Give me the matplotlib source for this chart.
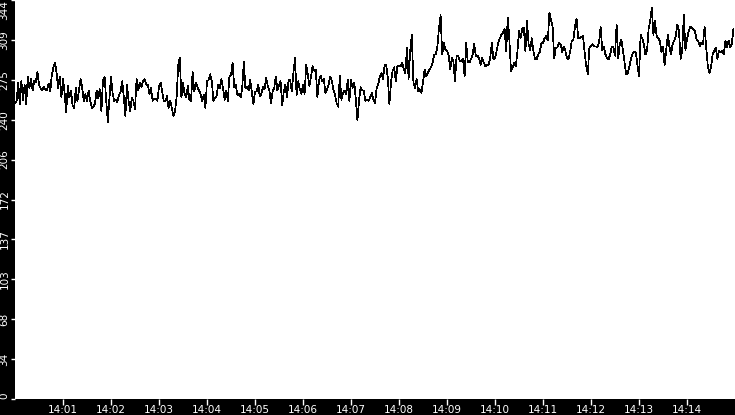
import numpy as np
import pandas as pd
import matplotlib
matplotlib.use("Agg")
import matplotlib.pyplot as plt
import matplotlib.dates as mdates

# readings every 2 s starting 14:00:00
vals_1 = [255, 257, 273, 254, 274, 258, 271, 254, 278, 268, 276, 266, 274, 273, 282,
          271, 268, 266, 269, 267, 266, 272, 265, 279, 286, 290, 281, 268, 278, 260,
          276, 264, 247, 270, 260, 266, 253, 251, 268, 257, 266, 276, 268, 257, 263,
          257, 266, 257, 251, 252, 255, 266, 259, 267, 248, 275, 278, 257, 239, 259,
          278, 264, 257, 258, 256, 262, 265, 274, 260, 244, 271, 257, 248, 260, 257]
vals_2 = [250, 276, 266, 273, 269, 274, 276, 271, 271, 263, 268, 257, 259, 259, 257,
          269, 273, 265, 257, 257, 261, 251, 257, 251, 244, 248, 260, 288, 294, 260,
          273, 263, 260, 270, 258, 257, 282, 265, 273, 269, 266, 263, 257, 262, 251,
          274, 275, 280, 274, 257, 260, 261, 271, 268, 276, 268, 258, 266, 257, 278,
          279, 290, 269, 271, 262, 263, 260, 268, 291, 268, 269, 266, 275, 265, 254]
vals_3 = [265, 265, 271, 261, 263, 269, 267, 277, 270, 266, 255, 265, 268, 278, 266,
          270, 274, 253, 265, 271, 260, 275, 275, 265, 281, 294, 262, 274, 267, 263,
          271, 263, 288, 280, 270, 278, 287, 283, 284, 260, 274, 279, 274, 276, 264,
          267, 271, 278, 274, 267, 262, 255, 252, 279, 258, 264, 266, 263, 275, 257,
          275, 268, 273, 259, 240, 257, 269, 266, 266, 257, 258, 257, 260, 264, 258]
vals_4 = [255, 268, 271, 278, 281, 276, 288, 288, 277, 254, 273, 283, 286, 274, 287,
          287, 287, 290, 284, 281, 303, 276, 300, 314, 273, 268, 276, 265, 267, 264,
          273, 284, 278, 281, 284, 286, 290, 297, 297, 304, 320, 331, 297, 307, 301,
          300, 297, 284, 294, 291, 274, 296, 296, 291, 291, 293, 278, 307, 290, 290,
          293, 297, 306, 296, 296, 294, 288, 294, 290, 287, 288, 288, 294, 307, 293]
vals_5 = [294, 300, 307, 311, 314, 316, 319, 300, 329, 309, 283, 286, 290, 287, 299,
          317, 311, 319, 320, 300, 326, 306, 301, 311, 300, 293, 293, 297, 299, 307,
          307, 311, 313, 309, 333, 327, 321, 294, 303, 303, 307, 306, 299, 304, 300,
          294, 293, 300, 309, 310, 321, 328, 311, 311, 312, 313, 299, 287, 280, 303,
          304, 306, 304, 304, 303, 307, 321, 301, 304, 297, 294, 293, 297, 304, 303]
vals_6 = [296, 323, 294, 306, 310, 300, 290, 280, 281, 287, 293, 298, 299, 299, 288,
          278, 314, 311, 306, 297, 300, 319, 326, 337, 314, 326, 313, 311, 309, 299,
          304, 288, 301, 314, 304, 297, 306, 309, 313, 323, 317, 293, 300, 331, 301,
          310, 317, 321, 320, 319, 317, 310, 309, 304, 307, 306, 321, 303, 287, 281,
          286, 297, 300, 303, 293, 300, 299, 300, 297, 309, 303, 309, 303, 306, 319]

values = vals_1 + vals_2 + vals_3 + vals_4 + vals_5 + vals_6
times = pd.date_range("2024-01-01 14:00:00", periods=len(values), freq="2s")

y_ticks = np.linspace(0, 344, 11)
x_ticks = pd.date_range("2024-01-01 14:01:00", "2024-01-01 14:14:00", freq="1min")

fig = plt.figure(figsize=(7.35, 4.15), dpi=100, facecolor="black")
ax = fig.add_axes([15 / 735, 16 / 415, 720 / 735, 399 / 415])
ax.set_facecolor("white")

ax.plot(times, values, color="black", lw=0.5, antialiased=False)

ax.set_xlim(pd.Timestamp("2024-01-01 14:00:00"), pd.Timestamp("2024-01-01 14:15:00"))
ax.set_ylim(0, 344)
ax.set_xticks(x_ticks)
ax.xaxis.set_major_formatter(mdates.DateFormatter("%H:%M"))
ax.set_yticks(y_ticks)
ax.set_yticklabels([str(int(v)) for v in y_ticks])

for s in ax.spines.values():
    s.set_visible(False)

ax.tick_params(axis="x", colors="white", labelsize=7.5, length=4, width=1, pad=0)
ax.tick_params(axis="y", colors="white", labelsize=7.5, length=3, width=1, pad=1)
for lab in ax.get_yticklabels():
    lab.set_rotation(90)
    lab.set_va("center")
ylabs = ax.get_yticklabels()
ylabs[-1].set_va("top")
ylabs[0].set_va("bottom")

fig.savefig("out.png", dpi=100, facecolor="black")
